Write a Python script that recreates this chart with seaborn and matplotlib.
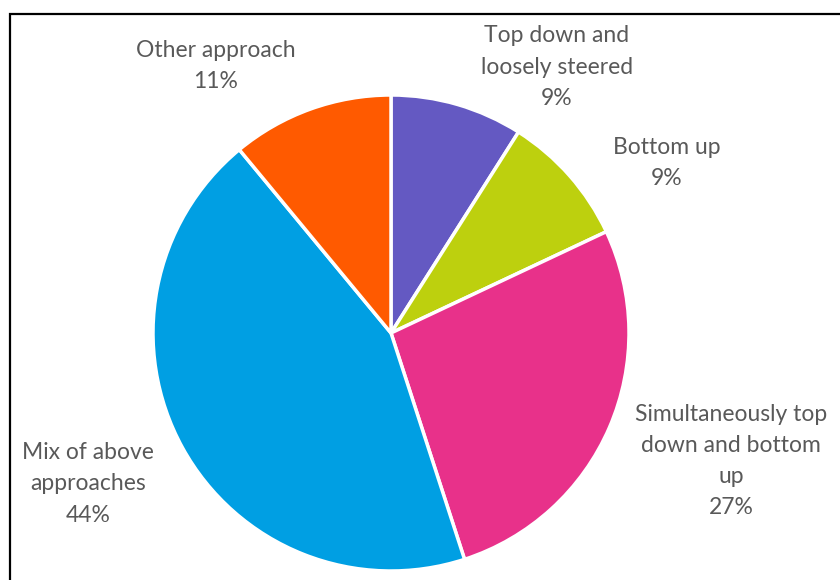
import matplotlib
matplotlib.use("Agg")
import matplotlib.pyplot as plt
from matplotlib.patches import Rectangle
import seaborn as sns

# Survey responses: how the approach was organised
categories = [
    "Top down and\nloosely steered",
    "Bottom up",
    "Simultaneously top\ndown and bottom\nup",
    "Mix of above\napproaches",
    "Other approach",
]
shares = [9, 9, 27, 44, 11]
colors = ["#6459C2", "#BDD00E", "#E8318A", "#009FE3", "#FF5A00"]

# Label anchor points (pixel space, y measured downward)
label_x = [557, 667, 731, 88, 216]
label_y = [67, 163, 461, 484, 66]

sns.set_theme(style="white")
plt.rcParams["font.family"] = ["Lato", "DejaVu Sans"]

W, H = 840, 580
fig = plt.figure(figsize=(W / 100, H / 100), dpi=100)
ax = fig.add_axes([0, 0, 1, 1])
ax.set_xlim(0, W)
ax.set_ylim(0, H)
ax.set_aspect("equal")
ax.axis("off")

ax.pie(
    shares,
    colors=colors,
    startangle=90,
    counterclock=False,
    center=(391, H - 333),
    radius=238,
    wedgeprops=dict(edgecolor="white", linewidth=2.5),
)

for name, val, x, y in zip(categories, shares, label_x, label_y):
    ax.text(x, H - y, f"{name}\n{val}%", ha="center", va="center",
            fontsize=16.5, color="#595959", linespacing=1.6)

# Chart border
ax.add_patch(Rectangle((10, -20), W + 20, H - 14 + 20, fill=False,
                       edgecolor="black", linewidth=1.6))

ax.set_xlim(0, W)
ax.set_ylim(0, H)
fig.savefig("out.png", dpi=100)
